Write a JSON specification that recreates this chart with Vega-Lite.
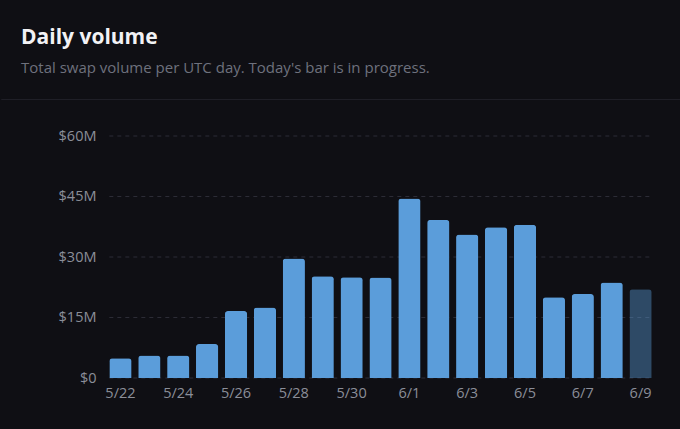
{
  "$schema": "https://vega.github.io/schema/vega-lite/v6.json",
  "background": "#0f0f14",
  "padding": {"top": 26, "left": 0, "right": 0, "bottom": 32},
  "spacing": 23,
  "config": {
    "font": "Open Sans",
    "view": {"stroke": null},
    "axis": {
      "labelColor": "#8b8e99",
      "labelFontSize": 14.5,
      "labelFont": "Open Sans",
      "domain": false,
      "ticks": false,
      "grid": false,
      "title": null
    },
    "axisX": {
      "labelAngle": 0,
      "labelPadding": 8
    },
    "axisY": {
      "labelExpr": "datum.value == 0 ? '$0' : '$' + datum.value + 'M'",
      "labelPadding": 0,
      "offset": -95
    }
  },
  "vconcat": [
    {
      "width": 680,
      "height": 0.01,
      "view": {"stroke": "#1f1f27", "strokeWidth": 1},
      "title": {
        "text": "Daily volume",
        "subtitle": "Total swap volume per UTC day. Today's bar is in progress.",
        "anchor": "start",
        "dx": 20,
        "offset": 17,
        "fontSize": 21,
        "fontWeight": "bold",
        "color": "#f2f2f5",
        "subtitleFontSize": 15,
        "subtitleColor": "#6e717d",
        "subtitlePadding": 13
      },
      "data": {"values": [{}]},
      "mark": {"type": "text"},
      "encoding": {}
    },
    {
      "width": 680,
      "height": 242,
      "layer": [
        {
          "data": {"values": [{"v": 0}, {"v": 15}, {"v": 30}, {"v": 45}, {"v": 60}]},
          "mark": {"type": "rule", "color": "#2c2c36", "strokeDash": [4, 4], "strokeWidth": 1},
          "encoding": {
            "x": {
              "datum": "5/22",
              "type": "ordinal",
              "bandPosition": 0,
              "axis": {"values": ["5/22", "5/24", "5/26", "5/28", "5/30", "6/1", "6/3", "6/5", "6/7", "6/9"]}
            },
            "x2": {"datum": "6/9", "bandPosition": 1},
            "y": {
              "field": "v",
              "type": "quantitative",
              "axis": {"values": [0, 15, 30, 45, 60]}
            }
          }
        },
        {
          "data": {
            "values": [
              {"day": "5/22", "volume": 4.9, "partial": false},
              {"day": "5/23", "volume": 5.6, "partial": false},
              {"day": "5/24", "volume": 5.6, "partial": false},
              {"day": "5/25", "volume": 8.4, "partial": false},
              {"day": "5/26", "volume": 16.6, "partial": false},
              {"day": "5/27", "volume": 17.5, "partial": false},
              {"day": "5/28", "volume": 29.6, "partial": false},
              {"day": "5/29", "volume": 25.2, "partial": false},
              {"day": "5/30", "volume": 25.0, "partial": false},
              {"day": "5/31", "volume": 24.9, "partial": false},
              {"day": "6/1", "volume": 44.5, "partial": false},
              {"day": "6/2", "volume": 39.2, "partial": false},
              {"day": "6/3", "volume": 35.6, "partial": false},
              {"day": "6/4", "volume": 37.4, "partial": false},
              {"day": "6/5", "volume": 38.0, "partial": false},
              {"day": "6/6", "volume": 20.0, "partial": false},
              {"day": "6/7", "volume": 20.8, "partial": false},
              {"day": "6/8", "volume": 23.7, "partial": false},
              {"day": "6/9", "volume": 22.0, "partial": true}
            ]
          },
          "mark": {
            "type": "bar",
            "color": "#5b9dda",
            "cornerRadiusTopLeft": 3,
            "cornerRadiusTopRight": 3
          },
          "encoding": {
            "x": {
              "field": "day",
              "type": "ordinal",
              "scale": {
                "domain": ["5/22", "5/23", "5/24", "5/25", "5/26", "5/27", "5/28", "5/29", "5/30", "5/31", "6/1", "6/2", "6/3", "6/4", "6/5", "6/6", "6/7", "6/8", "6/9"],
                "range": [105, 654],
                "paddingInner": 0.23,
                "paddingOuter": 0.115
              },
              "axis": {"values": ["5/22", "5/24", "5/26", "5/28", "5/30", "6/1", "6/3", "6/5", "6/7", "6/9"]}
            },
            "y": {
              "field": "volume",
              "type": "quantitative",
              "scale": {"domain": [0, 60]},
              "axis": {"values": [0, 15, 30, 45, 60]}
            },
            "opacity": {
              "condition": {"test": "datum.partial", "value": 0.42},
              "value": 1
            }
          }
        }
      ]
    }
  ]
}
